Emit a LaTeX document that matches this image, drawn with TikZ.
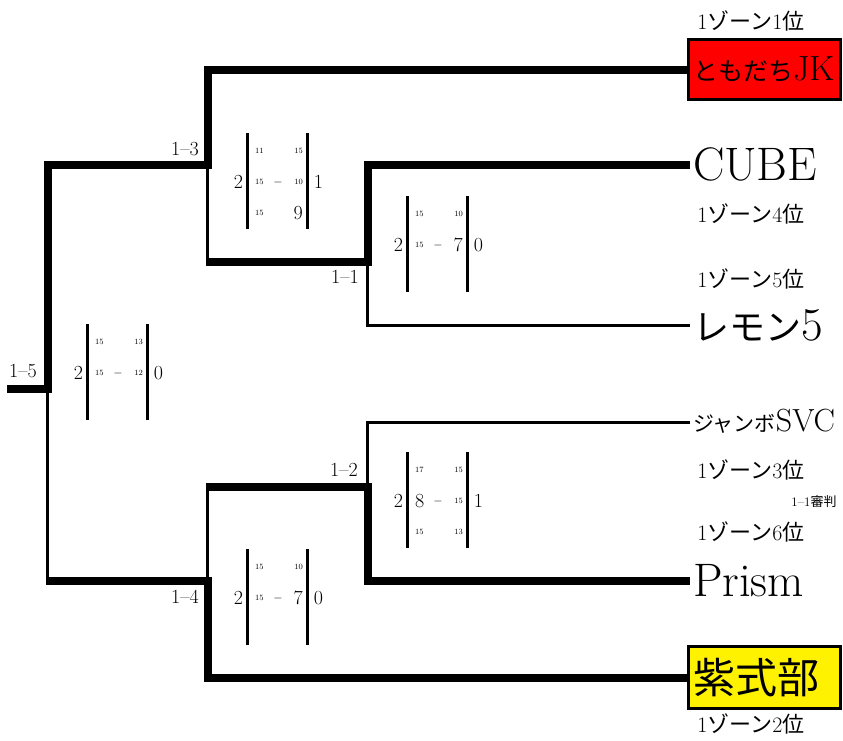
\documentclass[tikz,border=0pt]{standalone}
\usepackage{fontspec}
\newfontfamily\cjk{Noto Sans CJK JP}
\newcommand\fs[1]{\fontsize{#1}{#1}\selectfont}
\newcommand\bignum[1]{{\fs{20}#1}}
\newcommand\zone[1]{1{\cjk ゾーン}#1{\cjk 位}}
\tikzset{
  thickline/.style={line width=8pt, line join=miter, line cap=butt},
  thinline/.style={line width=3pt, line cap=butt},
  barline/.style={line width=3pt},
  lbl/.style={inner sep=0pt, font=\fs{20}},
  zonelbl/.style={inner sep=0pt, font=\fs{22}},
  team/.style={anchor=west, inner xsep=3pt, inner ysep=0pt, outer sep=0pt, text depth=0pt},
  teambox/.style={draw, line width=3pt, anchor=west, inner xsep=5pt, inner ysep=0pt, minimum width=152pt, text depth=0pt},
  bigsc/.style={inner sep=0pt, font=\fs{20}},
  dashn/.style={inner sep=0pt, font=\fs{13}},
  cellL/.style={anchor=west, inner sep=0pt, font=\fs{8}},
  cellR/.style={anchor=east, inner sep=0pt, font=\fs{8}},
}
\newcommand\scoreblk[6]{%
  \begin{scope}[shift={(#2,#3)}]
    \def\blkname{#1}
    \draw[barline] (-29.5,-49) -- (-29.5,47);
    \draw[barline] (30.5,-49) -- (30.5,47);
    \node[bigsc] (#1-l) at (-38.5,0) {#4};
    \node[bigsc] (#1-r) at (41.5,0) {#5};
    \node[dashn] (#1-d) at (1,0) {$-$};
    #6
  \end{scope}}
\newcommand\scell[4]{%
  \node[cellL] (\blkname-#1l) at (-22,#2) {#3};
  \node[cellR] (\blkname-#1r) at (26,#2) {#4};}
\begin{document}
\begin{tikzpicture}[x=1pt,y=-1pt]
\useasboundingbox (0,0) rectangle (843,740);

% teams
\node[teambox, fill=red, minimum height=60pt, text height=21pt] (tomo) at (687,69.5)
  {\makebox[142pt][l]{\fs{35}{\cjk\fs{25}ともだち}JK}};
\node[team, text height=30pt] (cube) at (690,165) {\fs{47}CUBE};
\node[team, text height=30pt] (lemon) at (690,325) {\fs{47}{\cjk\fs{36}レモン}5};
\node[team, text height=18pt] (jumbo) at (690,422) {\fs{32}{\cjk\fs{21}ジャンボ}SVC};
\node[team, text height=30pt] (prism) at (690,581) {\fs{47}Prism};
\node[teambox, fill=yellow, minimum height=62pt, text height=31pt] (mura) at (687,677.5)
  {\makebox[142pt][l]{\cjk\fs{42}紫式部}};

% zone labels
\node[zonelbl] (z1) at (751,21) {\zone{1}};
\node[zonelbl] (z4) at (751,214) {\zone{4}};
\node[zonelbl] (z5) at (751,279) {\zone{5}};
\node[zonelbl] (z3) at (751,470) {\zone{3}};
\node[zonelbl] (z6) at (751,532) {\zone{6}};
\node[zonelbl] (z2) at (751,724) {\zone{2}};
\node[inner sep=0pt, font=\fs{13}] (ref11) at (814,502) {1–1{\cjk 審判}};

% junctions
\coordinate (root) at (7,389);
\coordinate (c15) at (47.5,389);
\coordinate (c13) at (207.5,165);
\coordinate (c11) at (367.5,262);
\coordinate (c14) at (207.5,581);
\coordinate (c12) at (367.5,487);

% match labels
\node[lbl] (m15) at (23,371) {1–5};
\node[lbl] (m13) at (185,149) {1–3};
\node[lbl] (m11) at (345,277) {1–1};
\node[lbl] (m12) at (344,470) {1–2};
\node[lbl] (m14) at (185,597) {1–4};

% bracket
\draw[thickline] (root) -- (c15) |- (c13) |- (tomo.west);
\draw[thinline] (c13) -- (c13 |- c11);
\draw[thickline, shorten <=-1.5pt] (c13 |- c11) -- (c11) |- (cube.west);
\draw[thinline] (c11) |- (lemon.west);
\draw[thinline] (c15) -- (c15 |- c14);
\draw[thickline, shorten <=-1.5pt] (c15 |- c14) -- (c14) |- (mura.west);
\draw[thinline] (c14) -- (c14 |- c12);
\draw[thickline, shorten <=-1.5pt] (c14 |- c12) -- (c12) |- (prism.west);
\draw[thinline] (c12) |- (jumbo.west);

% scores
\scoreblk{s15}{117}{373}{2}{0}{%
  \scell{a}{-31}{15}{13}\scell{b}{0}{15}{12}}
\scoreblk{s13}{277}{182}{2}{1}{%
  \scell{a}{-31}{11}{15}\scell{b}{0}{15}{10}\scell{c}{31}{15}{\bignum{9}}}
\scoreblk{s11}{437}{245}{2}{0}{%
  \scell{a}{-31}{15}{10}\scell{b}{0}{15}{\bignum{7}}}
\scoreblk{s12}{437}{501}{2}{1}{%
  \scell{a}{-31}{17}{15}\scell{b}{0}{\bignum{8}}{15}\scell{c}{31}{15}{13}}
\scoreblk{s14}{277}{598}{2}{0}{%
  \scell{a}{-31}{15}{10}\scell{b}{0}{15}{\bignum{7}}}
\end{tikzpicture}
\end{document}
